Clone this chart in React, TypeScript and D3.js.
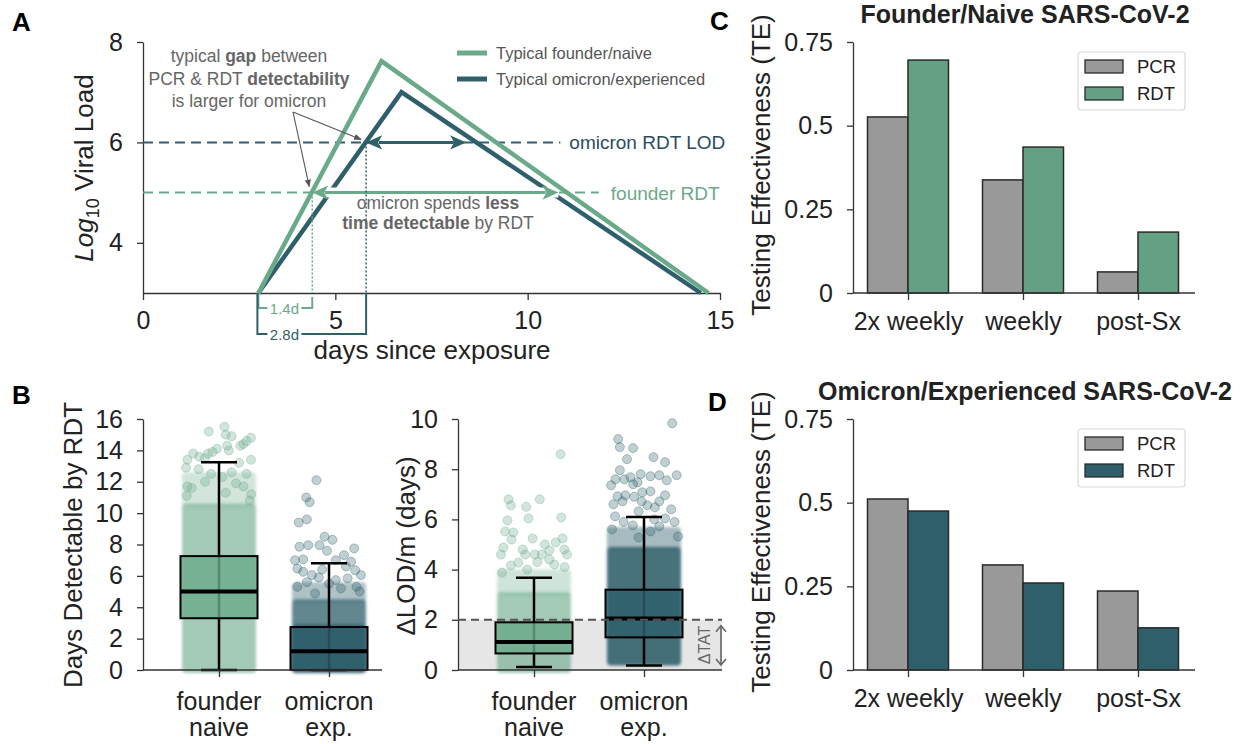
import React, { useEffect, useRef } from 'react';
import * as d3 from 'd3';

const GREEN = '#6aaa8a';
const GREEN_BAR = '#63a084';
const TEAL = '#2e5f6b';
const NAVY = '#2c4a62';
const NOTE = '#666666';
const INK = '#222222';
const FONT = '"Liberation Sans", Arial, Helvetica, sans-serif';

// ---- panel A: typical trajectories [day, log10 viral load]
const founderTrajectory: [number, number][] = [[3, 3], [6.2, 7.62], [14.7, 3]];
const omicronTrajectory: [number, number][] = [[3, 3], [6.72, 7.0], [14.5, 3]];
const exposureDay = 3;
const founderLod = 5;
const omicronLod = 6;
const founderDetectable = [4.4, 10.8];
const omicronDetectable = [5.8, 8.4];
const founderLodEnd = 11.85;
const omicronLodEnd = 10.85;
const dayTicks = [0, 5, 10, 15];
const viralTicks = [4, 6, 8];

// ---- panel B: box stats + jittered clouds
const groupLabels = [['founder', 'naive'], ['omicron', 'exp.']];
const daysBoxes = [
  { lo: 0, q1: 3.3, med: 5.0, q3: 7.26, hi: 13.25 },
  { lo: 0, q1: 0, med: 1.2, q3: 2.74, hi: 6.8 },
];
const lodBoxes = [
  { lo: 0.12, q1: 0.66, med: 1.12, q3: 1.9, hi: 3.68 },
  { lo: 0.18, q1: 1.3, med: 2.05, q3: 3.2, hi: 6.1 },
];
// dense part of each cloud: [from, to, shade]
const daysFounderCloud = [[0, 10.6, 0.62], [10.6, 12.6, 0.3]];
const daysOmicronCloud = [[0, 2.9, 0.95], [2.9, 4.5, 0.75], [4.5, 5.6, 0.38]];
const lodFounderCloud = [[0, 3.1, 0.62], [3.1, 4.0, 0.32]];
const lodOmicronCloud = [[0.3, 4.9, 0.88], [4.9, 5.7, 0.42]];
// sparse points: [jitter -1..1, value]
const daysFounderPts = [
  [0.16, 15.5], [-0.3, 15.2], [0.2, 15.0], [0.37, 14.9], [0.94, 14.8], [0.81, 14.6], [0.72, 14.4],
  [0.63, 14.3], [0.24, 14.3], [-0.06, 14.1], [0.29, 14.0], [-0.19, 13.9], [-0.32, 13.8], [-0.76, 13.8],
  [-0.58, 13.6], [-0.41, 13.5], [-0.93, 13.4], [0.94, 13.4], [0.59, 13.2], [-0.97, 12.9], [0.37, 12.6],
  [-0.23, 12.5], [0.81, 12.5], [-0.41, 12.0], [-0.93, 11.7], [0.72, 11.7], [0.9, 10.8], [-0.8, 11.6],
  [0.1, 12.3], [0.5, 11.9], [-0.6, 12.8], [0.95, 11.2], [-0.95, 11.1], [0.2, 11.3],
];
const daysOmicronPts = [
  [-0.37, 12.1], [-0.67, 11.0], [-0.57, 10.7], [-0.89, 9.4], [-0.65, 9.6], [-0.13, 8.5], [0.1, 8.3],
  [-0.87, 7.86], [-0.61, 7.96], [-0.28, 7.96], [-0.06, 7.6], [0.74, 7.75], [0.44, 7.32], [-1.0, 7.0],
  [-0.76, 7.05], [0.2, 7.0], [0.77, 6.36], [-0.93, 6.47], [0.94, 6.05], [-0.5, 6.05], [0.55, 5.84],
  [-0.41, 4.88], [0.81, 5.3], [-0.93, 5.3], [-0.76, 6.26], [0.2, 5.73], [0.5, 6.6], [-0.2, 6.4],
  [0.0, 5.5], [0.65, 6.9], [-0.3, 5.9], [0.9, 5.0], [0.35, 5.2], [-0.65, 5.6],
];
const lodFounderPts = [
  [0.78, 8.6], [-0.75, 6.8], [-0.68, 6.56], [-0.23, 6.5], [0.17, 6.8], [-0.78, 5.96], [-0.16, 6.04],
  [0.8, 6.08], [-0.85, 5.52], [-0.61, 5.48], [-0.66, 5.2], [-0.04, 5.24], [0.84, 5.24], [0.64, 5.08],
  [0.32, 5.0], [-0.9, 4.88], [-0.33, 4.8], [0.02, 4.6], [-0.97, 4.6], [0.23, 4.6], [0.45, 4.76],
  [0.97, 4.6], [-0.26, 4.6], [0.89, 4.8], [-0.46, 4.28], [0.45, 4.4], [-0.94, 3.88], [-0.68, 4.16],
  [0.6, 4.2], [0.1, 4.3], [-0.2, 4.0], [0.9, 4.1],
];
const lodOmicronPts = [
  [0.83, 9.83], [-0.76, 9.2], [-0.71, 8.88], [-0.32, 8.84], [-0.5, 8.4], [0.28, 8.48], [0.62, 8.28],
  [-0.71, 7.96], [-0.97, 7.36], [-0.84, 7.6], [-0.58, 7.6], [-0.4, 7.68], [-0.1, 7.8], [0.19, 7.72],
  [0.45, 7.76], [0.67, 7.56], [0.96, 7.76], [-0.19, 7.48], [-0.32, 7.4], [-0.78, 6.92], [-0.55, 6.96],
  [-0.29, 6.9], [-0.05, 7.08], [0.19, 7.12], [0.62, 6.96], [0.45, 6.72], [-0.07, 6.72], [0.1, 6.56],
  [0.32, 6.48], [-0.63, 6.72], [-0.85, 6.12], [-0.16, 6.32], [0.62, 6.04], [0.45, 5.72], [-0.33, 5.76],
  [0.19, 5.52], [1.0, 5.32], [-0.16, 5.28], [-0.94, 5.6], [0.8, 6.4], [-0.9, 6.6], [0.9, 5.9],
  [-0.6, 5.9], [0.3, 6.0],
];
const tatThreshold = 2;
const daysTicks = [0, 2, 4, 6, 8, 10, 12, 14, 16];
const lodTicks = [0, 2, 4, 6, 8, 10];

// ---- panels C / D: testing effectiveness
const schedules = ['2x weekly', 'weekly', 'post-Sx'];
const tests = ['PCR', 'RDT'];
const founderPCR = [0.526, 0.338, 0.063];
const founderRDT = [0.696, 0.436, 0.182];
const omicronPCR = [0.511, 0.314, 0.236];
const omicronRDT = [0.475, 0.26, 0.126];
const teTicks = [0, 0.25, 0.5, 0.75];

const App = () => {
  const svgRef = useRef<SVGSVGElement>(null);

  useEffect(() => {
    const svg = d3.select(svgRef.current);
    svg.selectAll('*').remove();
    svg.attr('font-family', FONT);

    const defs = svg.append('defs');
    defs.append('filter').attr('id', 'soft')
      .attr('x', '-30%').attr('y', '-10%').attr('width', '160%').attr('height', '120%')
      .append('feGaussianBlur').attr('stdDeviation', 1.6);
    defs.append('marker').attr('id', 'noteHead')
      .attr('viewBox', '0 0 10 10').attr('refX', 9).attr('refY', 5)
      .attr('markerWidth', 7).attr('markerHeight', 7).attr('orient', 'auto')
      .append('path').attr('d', 'M0,1L10,5L0,9Z').attr('fill', '#555');

    const styleAxis = (g: any) => {
      g.attr('font-size', 25).attr('font-family', FONT);
      g.select('.domain').attr('stroke', '#333').attr('stroke-width', 1.3);
      g.selectAll('.tick line').attr('stroke', '#333').attr('stroke-width', 1.3);
      g.selectAll('.tick text').attr('fill', INK);
    };

    const panelLabel = (t: string, x: number, y: number) =>
      svg.append('text').attr('x', x).attr('y', y).text(t)
        .attr('font-size', 26).attr('font-weight', 'bold').attr('fill', '#000');

    const yLabel = (x: number, y: number) =>
      svg.append('text').attr('transform', `translate(${x},${y}) rotate(-90)`)
        .attr('text-anchor', 'middle').attr('font-size', 26).attr('fill', INK);

    const doubleArrow = (g: any, x1: number, x2: number, y: number, color: string, w: number, head: number, halo = false) => {
      if (halo) {
        g.append('line').attr('x1', x1).attr('x2', x2).attr('y1', y).attr('y2', y)
          .attr('stroke', '#fff').attr('stroke-width', 10);
      }
      g.append('line').attr('x1', x1 + head * 0.8).attr('x2', x2 - head * 0.8).attr('y1', y).attr('y2', y)
        .attr('stroke', color).attr('stroke-width', w);
      const hw = head * 0.45;
      g.append('path').attr('d', `M${x1},${y}L${x1 + head},${y - hw}L${x1 + head * 0.75},${y}L${x1 + head},${y + hw}Z`).attr('fill', color);
      g.append('path').attr('d', `M${x2},${y}L${x2 - head},${y - hw}L${x2 - head * 0.75},${y}L${x2 - head},${y + hw}Z`).attr('fill', color);
    };

    // ================= Panel A =================
    const gA = svg.append('g');
    const xA = d3.scaleLinear().domain([0, 15]).range([143, 720]);
    const yA = d3.scaleLinear().domain([3, 8]).range([293, 42]);

    gA.append('g').attr('transform', `translate(0,${yA(3)})`)
      .call(d3.axisBottom(xA).tickValues(dayTicks).tickSize(7).tickSizeOuter(0).tickPadding(11).tickFormat(d3.format('d')))
      .call(styleAxis);
    gA.append('g').attr('transform', `translate(${xA(0)},0)`)
      .call(d3.axisLeft(yA).tickValues(viralTicks).tickSize(6).tickSizeOuter(0).tickPadding(14).tickFormat(d3.format('d')))
      .call(styleAxis);

    const line = d3.line<[number, number]>().x(d => xA(d[0])).y(d => yA(d[1]));

    // LOD dashed lines
    gA.append('line').attr('x1', xA(0)).attr('x2', xA(omicronLodEnd)).attr('y1', yA(omicronLod)).attr('y2', yA(omicronLod))
      .attr('stroke', TEAL).attr('stroke-width', 2).attr('stroke-dasharray', '10,6');
    gA.append('line').attr('x1', xA(0)).attr('x2', xA(founderLodEnd)).attr('y1', yA(founderLod)).attr('y2', yA(founderLod))
      .attr('stroke', GREEN).attr('stroke-width', 2).attr('stroke-dasharray', '10,6');

    gA.append('path').datum(omicronTrajectory).attr('d', line)
      .attr('fill', 'none').attr('stroke', TEAL).attr('stroke-width', 4.5).attr('stroke-linejoin', 'miter');
    doubleArrow(gA, xA(founderDetectable[0]), xA(founderDetectable[1]), yA(founderLod), GREEN, 3, 16, true);
    gA.append('path').datum(founderTrajectory).attr('d', line)
      .attr('fill', 'none').attr('stroke', GREEN).attr('stroke-width', 4.5).attr('stroke-linejoin', 'miter');
    doubleArrow(gA, xA(omicronDetectable[0]), xA(omicronDetectable[1]), yA(omicronLod), TEAL, 3, 16);

    // dotted drop lines
    gA.append('line').attr('x1', xA(founderDetectable[0])).attr('x2', xA(founderDetectable[0]))
      .attr('y1', yA(founderLod)).attr('y2', yA(3)).attr('stroke', GREEN).attr('stroke-width', 1.5).attr('stroke-dasharray', '2,2');
    gA.append('line').attr('x1', xA(omicronDetectable[0])).attr('x2', xA(omicronDetectable[0]))
      .attr('y1', yA(omicronLod)).attr('y2', yA(3)).attr('stroke', TEAL).attr('stroke-width', 1.5).attr('stroke-dasharray', '2,2');

    // brackets
    const y0 = yA(3);
    gA.append('path')
      .attr('d', `M${xA(exposureDay)},${y0}V${y0 + 15}H${xA(founderDetectable[0])}V${y0 + 4}`)
      .attr('fill', 'none').attr('stroke', GREEN).attr('stroke-width', 2);
    gA.append('path')
      .attr('d', `M${xA(exposureDay) - 1},${y0}V${y0 + 41}H${xA(omicronDetectable[0])}V${y0}`)
      .attr('fill', 'none').attr('stroke', TEAL).attr('stroke-width', 2);
    const gapLabel = (t: string, y: number, c: string) => {
      const cx = xA(exposureDay) + 26;
      gA.append('rect').attr('x', cx - 17).attr('y', y - 8).attr('width', 34).attr('height', 16).attr('fill', '#fff');
      gA.append('text').attr('x', cx).attr('y', y + 5.5).attr('text-anchor', 'middle')
        .attr('font-size', 15).attr('fill', c).text(t);
    };
    gapLabel(`${(founderDetectable[0] - exposureDay).toFixed(1)}d`, y0 + 15, GREEN);
    gapLabel(`${(omicronDetectable[0] - exposureDay).toFixed(1)}d`, y0 + 41, TEAL);

    // LOD labels
    gA.append('text').attr('x', xA(omicronLodEnd) + 9).attr('y', yA(omicronLod) + 7)
      .attr('font-size', 19).attr('fill', NAVY).text('omicron RDT LOD');
    gA.append('text').attr('x', xA(founderLodEnd) + 12).attr('y', yA(founderLod) + 7)
      .attr('font-size', 19).attr('fill', GREEN).text('founder RDT');

    // notes
    const note1 = gA.append('text').attr('text-anchor', 'middle').attr('font-size', 17.5).attr('fill', NOTE);
    const n1a = note1.append('tspan').attr('x', 249).attr('y', 62);
    n1a.append('tspan').text('typical ');
    n1a.append('tspan').attr('font-weight', 'bold').text('gap');
    n1a.append('tspan').text(' between');
    const n1b = note1.append('tspan').attr('x', 249).attr('y', 84.5);
    n1b.append('tspan').text('PCR & RDT ');
    n1b.append('tspan').attr('font-weight', 'bold').text('detectability');
    note1.append('tspan').attr('x', 249).attr('y', 107).text('is larger for omicron');

    gA.append('line').attr('x1', 293).attr('y1', 112).attr('x2', xA(founderDetectable[0]) - 3).attr('y2', yA(founderLod) - 6)
      .attr('stroke', '#555').attr('stroke-width', 1.1).attr('marker-end', 'url(#noteHead)');
    gA.append('line').attr('x1', 293).attr('y1', 112).attr('x2', xA(omicronDetectable[0]) - 5).attr('y2', yA(omicronLod) - 3)
      .attr('stroke', '#555').attr('stroke-width', 1.1).attr('marker-end', 'url(#noteHead)');

    const note2 = gA.append('text').attr('text-anchor', 'middle').attr('font-size', 17.5).attr('fill', NOTE);
    const n2a = note2.append('tspan').attr('x', 438).attr('y', 209);
    n2a.append('tspan').text('omicron spends ');
    n2a.append('tspan').attr('font-weight', 'bold').text('less');
    const n2b = note2.append('tspan').attr('x', 438).attr('y', 229);
    n2b.append('tspan').attr('font-weight', 'bold').text('time detectable');
    n2b.append('tspan').text(' by RDT');

    // legend
    const legA = [['Typical founder/naive', GREEN], ['Typical omicron/experienced', TEAL]];
    legA.forEach(([t, c], i) => {
      const yy = 53 + i * 26;
      gA.append('line').attr('x1', 457).attr('x2', 487).attr('y1', yy).attr('y2', yy)
        .attr('stroke', c).attr('stroke-width', 5);
      gA.append('text').attr('x', 496).attr('y', yy + 6).attr('font-size', 16.5).attr('fill', '#555').text(t);
    });

    const yl = yLabel(93, 168);
    yl.append('tspan').attr('font-style', 'italic').text('Log');
    yl.append('tspan').attr('font-size', 18).attr('dy', 6).text('10');
    yl.append('tspan').attr('dy', -6).text(' Viral Load');
    gA.append('text').attr('x', 432).attr('y', 359).attr('text-anchor', 'middle')
      .attr('font-size', 26).attr('fill', INK).text('days since exposure');

    panelLabel('A', 12, 31);

    // ================= Panel B =================
    const drawGroupPanel = (
      xs: number[], axisX: [number, number], y: any, ticks: number[],
      boxes: any[], clouds: number[][][], pts: number[][][],
    ) => {
      const g = svg.append('g');
      const xB = d3.scalePoint<string>().domain(groupLabels.map(d => d.join(' '))).range(xs as [number, number]);
      const colors = [GREEN, TEAL];

      // clouds
      groupLabels.forEach((lab, i) => {
        const cx = xB(lab.join(' '))!;
        clouds[i].forEach(([a, b, s]) => {
          g.append('rect').attr('x', cx - 37).attr('width', 74)
            .attr('y', y(b)).attr('height', y(a) - y(b) + 3).attr('rx', 4)
            .attr('fill', colors[i]).attr('opacity', s).attr('filter', 'url(#soft)');
        });
        g.append('g').selectAll('circle').data(pts[i]).enter().append('circle')
          .attr('cx', d => cx + d[0] * 34).attr('cy', d => y(d[1])).attr('r', 4.5)
          .attr('fill', colors[i]).attr('fill-opacity', 0.3)
          .attr('stroke', colors[i]).attr('stroke-opacity', 0.35).attr('stroke-width', 1);
      });

      // boxes
      groupLabels.forEach((lab, i) => {
        const cx = xB(lab.join(' '))!;
        const b = boxes[i];
        g.append('line').attr('x1', cx).attr('x2', cx).attr('y1', y(b.hi)).attr('y2', y(b.lo))
          .attr('stroke', '#000').attr('stroke-width', 2.5);
        [b.hi, b.lo].forEach(v => {
          g.append('line').attr('x1', cx - 18).attr('x2', cx + 18).attr('y1', y(v)).attr('y2', y(v))
            .attr('stroke', '#000').attr('stroke-width', 2.5);
        });
        g.append('rect').attr('x', cx - 38.5).attr('width', 77).attr('y', y(b.q3))
          .attr('height', Math.max(0, y(b.q1) - y(b.q3)))
          .attr('fill', colors[i]).attr('fill-opacity', 0.8).attr('stroke', '#000').attr('stroke-width', 2);
        g.append('line').attr('x1', cx - 38.5).attr('x2', cx + 38.5).attr('y1', y(b.med)).attr('y2', y(b.med))
          .attr('stroke', '#000').attr('stroke-width', 4);
      });

      // axes
      const ax = g.append('g').attr('transform', `translate(0,${y(0)})`)
        .call(d3.axisBottom(xB).tickSize(7).tickFormat(() => ''))
        .call(styleAxis);
      ax.select('.domain').remove();
      g.append('line').attr('x1', axisX[0]).attr('x2', axisX[1]).attr('y1', y(0)).attr('y2', y(0))
        .attr('stroke', '#333').attr('stroke-width', 1.3);
      groupLabels.forEach(lab => {
        const cx = xB(lab.join(' '))!;
        const t = g.append('text').attr('text-anchor', 'middle').attr('font-size', 25).attr('fill', INK);
        t.append('tspan').attr('x', cx).attr('y', y(0) + 40).text(lab[0]);
        t.append('tspan').attr('x', cx).attr('y', y(0) + 66).text(lab[1]);
      });
      g.append('g').attr('transform', `translate(${axisX[0]},0)`)
        .call(d3.axisLeft(y).tickValues(ticks).tickSize(6).tickSizeOuter(0).tickPadding(14))
        .call(styleAxis);
      return g;
    };

    const yDays = d3.scaleLinear().domain([0, 16]).range([670, 419]);
    const yLod = d3.scaleLinear().domain([0, 10]).range([670, 419]);

    drawGroupPanel([219, 329], [143, 382], yDays, daysTicks, daysBoxes,
      [daysFounderCloud, daysOmicronCloud], [daysFounderPts, daysOmicronPts]);

    // TAT band under the right plot
    const gTat = svg.append('g');
    gTat.append('rect').attr('x', 458).attr('width', 722 - 458).attr('y', yLod(tatThreshold))
      .attr('height', yLod(0) - yLod(tatThreshold)).attr('fill', '#e6e6e6');
    const gLod = drawGroupPanel([534, 644], [458, 722], yLod, lodTicks, lodBoxes,
      [lodFounderCloud, lodOmicronCloud], [lodFounderPts, lodOmicronPts]);
    gLod.append('line').attr('x1', 458).attr('x2', 722).attr('y1', yLod(tatThreshold)).attr('y2', yLod(tatThreshold))
      .attr('stroke', '#555').attr('stroke-width', 2).attr('stroke-dasharray', '8,5');
    // ΔTAT marker
    const tx = 721;
    gLod.append('line').attr('x1', tx).attr('x2', tx).attr('y1', yLod(tatThreshold) + 6).attr('y2', yLod(0) - 5)
      .attr('stroke', '#666').attr('stroke-width', 1.6);
    gLod.append('path')
      .attr('d', `M${tx - 5},${yLod(tatThreshold) + 12}L${tx},${yLod(tatThreshold) + 6}L${tx + 5},${yLod(tatThreshold) + 12}` +
        `M${tx - 5},${yLod(0) - 11}L${tx},${yLod(0) - 5}L${tx + 5},${yLod(0) - 11}`)
      .attr('fill', 'none').attr('stroke', '#666').attr('stroke-width', 1.6);
    gLod.append('text').attr('transform', `translate(710,${(yLod(tatThreshold) + yLod(0)) / 2}) rotate(-90)`)
      .attr('text-anchor', 'middle').attr('font-size', 16).attr('fill', '#666').text('ΔTAT');

    yLabel(82, 545).text('Days Detectable by RDT');
    yLabel(415, 546).text('ΔLOD/m (days)');
    panelLabel('B', 12, 404);

    // ================= Panels C / D =================
    const drawBars = (top: number, title: string, pcr: number[], rdt: number[], rdtColor: string) => {
      const g = svg.append('g');
      const y = d3.scaleLinear().domain([0, 0.75]).range([top + 251, top]);
      const x = d3.scalePoint<string>().domain(schedules).range([908, 1138]);
      const sub = d3.scaleBand<string>().domain(tests).range([-40.5, 40.5]);
      const series: Record<string, number[]> = { PCR: pcr, RDT: rdt };
      const fills: Record<string, string> = { PCR: '#999999', RDT: rdtColor };

      schedules.forEach((s, i) => {
        tests.forEach(t => {
          g.append('rect').attr('x', x(s)! + sub(t)!).attr('width', sub.bandwidth())
            .attr('y', y(series[t][i])).attr('height', y(0) - y(series[t][i]))
            .attr('fill', fills[t]).attr('stroke', '#2a2a2a').attr('stroke-width', 1.5);
        });
      });

      const ax = g.append('g').attr('transform', `translate(0,${y(0)})`)
        .call(d3.axisBottom(x).tickSize(7).tickPadding(12))
        .call(styleAxis);
      ax.select('.domain').remove();
      g.append('line').attr('x1', 853).attr('x2', 1195).attr('y1', y(0)).attr('y2', y(0))
        .attr('stroke', '#333').attr('stroke-width', 1.3);
      g.append('g').attr('transform', 'translate(853,0)')
        .call(d3.axisLeft(y).tickValues(teTicks).tickFormat(d => String(d)).tickSize(6).tickSizeOuter(0).tickPadding(14))
        .call(styleAxis);

      // legend
      const lg = g.append('g').attr('transform', `translate(1078,${top + 10})`);
      lg.append('rect').attr('width', 107).attr('height', 58).attr('rx', 3)
        .attr('fill', '#fff').attr('stroke', '#d9d9d9').attr('stroke-width', 1.2);
      tests.forEach((t, i) => {
        lg.append('rect').attr('x', 7).attr('y', 8 + i * 27).attr('width', 38).attr('height', 13)
          .attr('fill', fills[t]).attr('stroke', '#2a2a2a').attr('stroke-width', 1.3);
        lg.append('text').attr('x', 59).attr('y', 21 + i * 27).attr('font-size', 18.5)
          .attr('fill', INK).text(t);
      });

      g.append('text').attr('x', 1025).attr('y', top - 19).attr('text-anchor', 'middle')
        .attr('font-size', 25).attr('font-weight', 'bold').attr('fill', INK).text(title);
      yLabel(770, top + 123).text('Testing Effectiveness (TE)');
    };

    drawBars(42, 'Founder/Naive SARS-CoV-2', founderPCR, founderRDT, GREEN_BAR);
    drawBars(419, 'Omicron/Experienced SARS-CoV-2', omicronPCR, omicronRDT, TEAL);
    panelLabel('C', 710, 30);
    panelLabel('D', 708, 411);
  }, []);

  return (
    <svg ref={svgRef} width={1252} height={744}
      style={{ position: 'absolute', left: 0, top: 0, background: '#fff' }} />
  );
};

export default App;
